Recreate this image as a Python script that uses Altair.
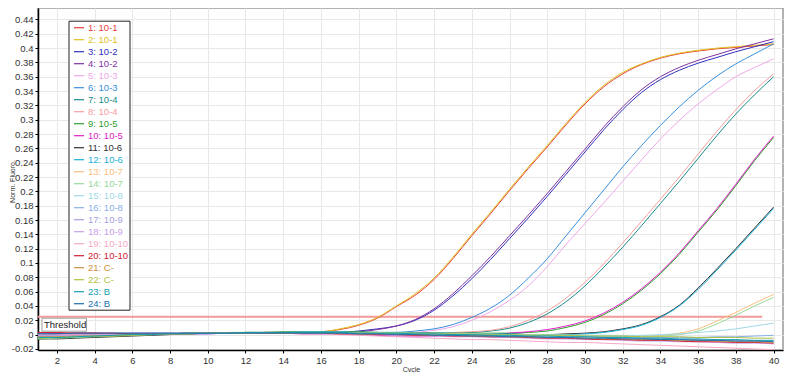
import altair as alt
import pandas as pd

cycles = list(range(1, 41))

series_names = [
    "1: 10-1", "2: 10-1", "3: 10-2", "4: 10-2", "5: 10-3", "6: 10-3",
    "7: 10-4", "8: 10-4", "9: 10-5", "10: 10-5", "11: 10-6", "12: 10-6",
    "13: 10-7", "14: 10-7", "15: 10-8", "16: 10-8", "17: 10-9", "18: 10-9",
    "19: 10-10", "20: 10-10", "21: C-", "22: C-", "23: B", "24: B",
]
series_colors = [
    "#e8403a", "#e0c020", "#3030c0", "#8030a0", "#f0a8e8", "#3890e0",
    "#1a8c8c", "#f4a0a0", "#30a030", "#e020c8", "#303030", "#18b0d8",
    "#f8c080", "#98d898", "#a0d8e8", "#88b0e8", "#a8a0e0", "#c8a0e8",
    "#f4a8c8", "#d02030", "#c89040", "#b0c040", "#10a0b0", "#2070b0",
]

s01 = [0.003, 0.002, 0.002, 0.002, 0.001, 0.001, 0.001, 0.001, 0.002, 0.002, 0.002, 0.002, 0.003, 0.003, 0.003, 0.004, 0.007, 0.013, 0.023, 0.039, 0.055, 0.077, 0.106, 0.138, 0.169, 0.201, 0.232, 0.262, 0.293, 0.322, 0.346, 0.364, 0.377, 0.386, 0.392, 0.396, 0.399, 0.401, 0.403, 0.405]
s02 = [-0.002, -0.001, -0.001, 0.000, 0.000, 0.001, 0.001, 0.001, 0.002, 0.002, 0.002, 0.002, 0.003, 0.003, 0.004, 0.004, 0.008, 0.014, 0.024, 0.040, 0.057, 0.079, 0.108, 0.140, 0.171, 0.203, 0.234, 0.264, 0.295, 0.324, 0.348, 0.366, 0.378, 0.387, 0.393, 0.397, 0.400, 0.402, 0.404, 0.406]
s03 = [0.001, 0.001, 0.002, 0.002, 0.002, 0.002, 0.002, 0.002, 0.002, 0.002, 0.002, 0.002, 0.002, 0.002, 0.002, 0.002, 0.003, 0.005, 0.008, 0.012, 0.020, 0.034, 0.054, 0.078, 0.105, 0.134, 0.163, 0.193, 0.224, 0.255, 0.286, 0.314, 0.338, 0.356, 0.369, 0.379, 0.387, 0.395, 0.402, 0.409]
s04 = [0.000, 0.000, 0.001, 0.001, 0.001, 0.001, 0.001, 0.001, 0.002, 0.002, 0.002, 0.002, 0.002, 0.002, 0.002, 0.002, 0.003, 0.004, 0.007, 0.012, 0.021, 0.036, 0.057, 0.082, 0.109, 0.138, 0.167, 0.197, 0.228, 0.259, 0.290, 0.318, 0.342, 0.360, 0.373, 0.383, 0.391, 0.399, 0.406, 0.413]
s05 = [-0.001, -0.001, 0.000, 0.000, 0.001, 0.001, 0.001, 0.001, 0.001, 0.002, 0.002, 0.002, 0.002, 0.002, 0.002, 0.002, 0.002, 0.002, 0.002, 0.002, 0.003, 0.006, 0.011, 0.020, 0.032, 0.048, 0.068, 0.095, 0.126, 0.155, 0.184, 0.214, 0.244, 0.273, 0.299, 0.322, 0.342, 0.360, 0.373, 0.385]
s06 = [-0.002, -0.001, -0.001, 0.000, 0.000, 0.001, 0.001, 0.001, 0.001, 0.002, 0.002, 0.002, 0.002, 0.002, 0.002, 0.002, 0.002, 0.002, 0.003, 0.003, 0.005, 0.008, 0.014, 0.024, 0.037, 0.055, 0.079, 0.106, 0.138, 0.170, 0.202, 0.234, 0.264, 0.292, 0.318, 0.341, 0.361, 0.378, 0.392, 0.406]
s07 = [-0.005, -0.004, -0.003, -0.002, -0.001, 0.000, 0.001, 0.001, 0.002, 0.002, 0.002, 0.003, 0.003, 0.003, 0.003, 0.003, 0.003, 0.003, 0.003, 0.002, 0.002, 0.002, 0.002, 0.003, 0.005, 0.009, 0.017, 0.029, 0.046, 0.068, 0.094, 0.122, 0.152, 0.183, 0.214, 0.246, 0.278, 0.308, 0.335, 0.360]
s08 = [-0.002, -0.002, -0.001, -0.001, 0.000, 0.000, 0.001, 0.001, 0.001, 0.002, 0.002, 0.002, 0.002, 0.002, 0.002, 0.002, 0.002, 0.002, 0.002, 0.002, 0.002, 0.002, 0.003, 0.004, 0.006, 0.011, 0.020, 0.033, 0.051, 0.073, 0.099, 0.128, 0.158, 0.189, 0.220, 0.252, 0.284, 0.314, 0.341, 0.364]
s09 = [-0.006, -0.005, -0.004, -0.003, -0.002, -0.001, 0.000, 0.001, 0.002, 0.002, 0.003, 0.003, 0.003, 0.004, 0.004, 0.004, 0.004, 0.004, 0.003, 0.003, 0.003, 0.002, 0.002, 0.002, 0.002, 0.002, 0.003, 0.005, 0.010, 0.017, 0.028, 0.043, 0.062, 0.085, 0.112, 0.143, 0.174, 0.208, 0.243, 0.275]
s10 = [0.000, 0.000, 0.001, 0.001, 0.001, 0.001, 0.001, 0.001, 0.001, 0.001, 0.002, 0.002, 0.002, 0.002, 0.001, 0.001, 0.001, 0.000, -0.001, -0.002, -0.002, -0.002, -0.002, -0.001, 0.000, 0.002, 0.004, 0.007, 0.012, 0.019, 0.030, 0.045, 0.064, 0.087, 0.114, 0.145, 0.176, 0.210, 0.245, 0.277]
s11 = [-0.006, -0.006, -0.005, -0.004, -0.003, -0.002, -0.001, 0.000, 0.001, 0.002, 0.002, 0.003, 0.003, 0.003, 0.003, 0.003, 0.003, 0.003, 0.003, 0.002, 0.002, 0.002, 0.001, 0.001, 0.001, 0.001, 0.000, 0.000, 0.001, 0.002, 0.004, 0.008, 0.014, 0.025, 0.041, 0.065, 0.092, 0.120, 0.149, 0.178]
s12 = [-0.005, -0.004, -0.003, -0.002, -0.001, 0.000, 0.001, 0.001, 0.002, 0.002, 0.002, 0.003, 0.003, 0.003, 0.004, 0.004, 0.004, 0.003, 0.003, 0.003, 0.002, 0.002, 0.002, 0.001, 0.001, 0.001, 0.000, 0.000, 0.000, 0.001, 0.003, 0.007, 0.013, 0.024, 0.040, 0.063, 0.090, 0.118, 0.147, 0.176]
s13 = [-0.004, -0.003, -0.003, -0.002, -0.001, 0.000, 0.001, 0.001, 0.002, 0.002, 0.002, 0.003, 0.003, 0.003, 0.003, 0.003, 0.003, 0.003, 0.002, 0.002, 0.002, 0.001, 0.001, 0.001, 0.000, 0.000, 0.000, -0.001, -0.001, -0.001, -0.002, -0.002, -0.002, -0.001, 0.002, 0.008, 0.019, 0.031, 0.044, 0.056]
s14 = [-0.006, -0.005, -0.004, -0.003, -0.002, -0.001, 0.000, 0.001, 0.001, 0.002, 0.002, 0.002, 0.003, 0.003, 0.003, 0.003, 0.003, 0.003, 0.003, 0.002, 0.002, 0.002, 0.001, 0.001, 0.001, 0.000, 0.000, 0.000, -0.001, -0.001, -0.001, -0.002, -0.002, -0.002, 0.000, 0.005, 0.015, 0.027, 0.040, 0.052]
s15 = [-0.004, -0.003, -0.002, -0.002, -0.001, 0.000, 0.000, 0.001, 0.001, 0.002, 0.002, 0.002, 0.002, 0.003, 0.003, 0.003, 0.002, 0.002, 0.002, 0.001, 0.001, 0.001, 0.000, 0.000, 0.000, 0.000, -0.001, -0.001, -0.001, -0.001, -0.001, -0.001, -0.001, 0.000, 0.001, 0.003, 0.005, 0.008, 0.012, 0.016]
s16 = [-0.003, -0.002, -0.002, -0.001, -0.001, 0.000, 0.000, 0.001, 0.001, 0.001, 0.002, 0.002, 0.002, 0.002, 0.002, 0.002, 0.002, 0.001, 0.001, 0.001, 0.000, 0.000, 0.000, -0.001, -0.001, -0.001, -0.002, -0.002, -0.002, -0.003, -0.003, -0.003, -0.004, -0.004, -0.004, -0.004, -0.003, -0.003, -0.002, -0.001]
s17 = [-0.001, -0.001, 0.000, 0.000, 0.001, 0.001, 0.001, 0.001, 0.001, 0.002, 0.002, 0.002, 0.002, 0.002, 0.002, 0.002, 0.002, 0.001, 0.001, 0.000, 0.000, -0.001, -0.001, -0.002, -0.002, -0.003, -0.003, -0.004, -0.004, -0.005, -0.005, -0.006, -0.006, -0.006, -0.007, -0.007, -0.008, -0.008, -0.009, -0.009]
s18 = [-0.002, -0.002, -0.001, -0.001, 0.000, 0.000, 0.001, 0.001, 0.001, 0.002, 0.002, 0.002, 0.002, 0.002, 0.002, 0.001, 0.001, 0.000, 0.000, -0.001, -0.001, -0.002, -0.003, -0.003, -0.004, -0.004, -0.005, -0.006, -0.006, -0.007, -0.007, -0.008, -0.009, -0.009, -0.010, -0.010, -0.011, -0.012, -0.012, -0.013]
s19 = [0.000, 0.000, 0.001, 0.001, 0.001, 0.001, 0.001, 0.001, 0.001, 0.002, 0.002, 0.002, 0.002, 0.002, 0.001, 0.001, 0.000, -0.001, -0.002, -0.003, -0.004, -0.005, -0.006, -0.007, -0.007, -0.008, -0.009, -0.010, -0.011, -0.011, -0.012, -0.013, -0.014, -0.015, -0.016, -0.017, -0.018, -0.019, -0.020, -0.021]
s20 = [0.003, 0.003, 0.002, 0.002, 0.002, 0.001, 0.001, 0.001, 0.001, 0.002, 0.002, 0.002, 0.002, 0.002, 0.002, 0.002, 0.001, 0.001, 0.000, 0.000, -0.001, -0.001, -0.002, -0.002, -0.003, -0.003, -0.004, -0.005, -0.005, -0.006, -0.007, -0.007, -0.008, -0.008, -0.009, -0.010, -0.010, -0.011, -0.011, -0.012]
s21 = [-0.003, -0.003, -0.002, -0.002, -0.001, 0.000, 0.000, 0.001, 0.001, 0.002, 0.002, 0.002, 0.002, 0.002, 0.002, 0.002, 0.002, 0.001, 0.001, 0.000, 0.000, -0.001, -0.001, -0.002, -0.002, -0.003, -0.003, -0.004, -0.004, -0.005, -0.006, -0.006, -0.007, -0.007, -0.008, -0.008, -0.009, -0.010, -0.010, -0.011]
s22 = [-0.005, -0.004, -0.003, -0.002, -0.002, -0.001, 0.000, 0.001, 0.001, 0.002, 0.002, 0.002, 0.003, 0.003, 0.003, 0.003, 0.003, 0.002, 0.002, 0.002, 0.001, 0.001, 0.001, 0.000, 0.000, 0.000, -0.001, -0.001, -0.001, -0.002, -0.002, -0.002, -0.003, -0.003, -0.003, -0.004, -0.004, -0.004, -0.005, -0.005]
s23 = [-0.004, -0.004, -0.003, -0.002, -0.001, 0.000, 0.000, 0.001, 0.001, 0.002, 0.002, 0.003, 0.003, 0.003, 0.003, 0.003, 0.003, 0.002, 0.002, 0.002, 0.001, 0.001, 0.000, 0.000, -0.001, -0.001, -0.002, -0.002, -0.003, -0.003, -0.004, -0.004, -0.005, -0.005, -0.006, -0.006, -0.007, -0.007, -0.008, -0.008]
s24 = [0.001, 0.001, 0.002, 0.002, 0.002, 0.002, 0.002, 0.002, 0.002, 0.002, 0.002, 0.002, 0.002, 0.002, 0.002, 0.002, 0.002, 0.001, 0.001, 0.000, 0.000, -0.001, -0.001, -0.002, -0.002, -0.003, -0.003, -0.004, -0.004, -0.005, -0.005, -0.006, -0.006, -0.007, -0.007, -0.008, -0.008, -0.009, -0.009, -0.010]

series_values = [s01, s02, s03, s04, s05, s06, s07, s08, s09, s10, s11, s12,
                 s13, s14, s15, s16, s17, s18, s19, s20, s21, s22, s23, s24]

threshold_value = [0.025]
threshold_start = [1]
threshold_end = [39.4]
threshold_label = ["Threshold"]

x_ticks = [2, 4, 6, 8, 10, 12, 14, 16, 18, 20, 22, 24, 26, 28, 30, 32, 34, 36, 38, 40]
y_ticks = [-0.02, 0, 0.02, 0.04, 0.06, 0.08, 0.1, 0.12, 0.14, 0.16, 0.18, 0.2,
           0.22, 0.24, 0.26, 0.28, 0.3, 0.32, 0.34, 0.36, 0.38, 0.4, 0.42, 0.44]

rows = []
for name, vals in zip(series_names, series_values):
    for c, v in zip(cycles, vals):
        rows.append({"series": name, "cycle": c, "fluoro": v})
df = pd.DataFrame(rows)

thr_df = pd.DataFrame({
    "cycle": threshold_start,
    "cycle_end": threshold_end,
    "fluoro": threshold_value,
    "label": threshold_label,
})

FONT = "Liberation Sans"
xscale = alt.Scale(domain=[1, 40.5], nice=False, zero=False)
yscale = alt.Scale(domain=[-0.0215, 0.456], nice=False, zero=False)

x_axis = alt.Axis(
    values=x_ticks, tickCount=len(x_ticks), title="Cycle", titleX=373, titleY=19,
    titleBaseline="middle", titleFontSize=7, titleFontWeight="normal",
    labelFlush=False, grid=True, labelOverlap=False,
)
y_axis = alt.Axis(
    values=y_ticks, tickCount=len(y_ticks), title="Norm. Fluoro.", titleX=-26,
    titleY=173, titleAngle=-90, titleAlign="center", titleBaseline="middle",
    titleFontSize=7, titleFontWeight="normal", labelFlush=False, grid=True,
    labelOverlap=False,
    labelExpr="datum.value < 0 ? '-' + format(-datum.value, '~g') : format(datum.value, '~g')",
)

lines = alt.Chart(df).mark_line(strokeWidth=1, clip=True, interpolate="monotone").encode(
    x=alt.X("cycle:Q", scale=xscale, axis=x_axis),
    y=alt.Y("fluoro:Q", scale=yscale, axis=y_axis),
    color=alt.Color(
        "series:N",
        scale=alt.Scale(domain=series_names, range=series_colors),
        sort=series_names,
        legend=alt.Legend(
            orient="none", legendX=30.5, legendY=12.7, title=None,
            symbolType="stroke", symbolSize=100, symbolStrokeWidth=1.2,
            labelFontSize=9.5, labelFont=FONT,
            labelColor=alt.ExprRef("scale('color', datum.value)"),
            labelExpr="datum.label + '  '",
            rowPadding=1, padding=1, symbolOffset=3.5, labelOffset=3,
            strokeColor="#222222", fillColor="white", labelLimit=200,
        ),
    ),
    detail="series:N",
)

thr = alt.Chart(thr_df).mark_rule(color="#f19a9a", strokeWidth=2).encode(
    x=alt.X("cycle:Q", scale=xscale, title="Cycle"),
    x2="cycle_end:Q",
    y=alt.Y("fluoro:Q", scale=yscale, title="Norm. Fluoro."),
)

box = alt.Chart(thr_df).mark_rect(
    fill="white", stroke="#a0a0a0", strokeWidth=1, yOffset=1.5, y2Offset=14.5
).encode(
    x=alt.value(4), x2=alt.value(48.5),
    y=alt.Y("fluoro:Q", scale=yscale, title="Norm. Fluoro."),
    y2="fluoro:Q",
)

label = alt.Chart(thr_df).mark_text(
    align="left", baseline="middle", dy=8.3, fontSize=9.5, font=FONT, color="#222222"
).encode(
    x=alt.value(6),
    y=alt.Y("fluoro:Q", scale=yscale, title="Norm. Fluoro."),
    text="label:N",
)

chart = alt.layer(thr, lines, box, label).properties(
    width=745, height=342,
    autosize=alt.AutoSizeParams(type="none"),
    padding={"left": 30, "top": 0, "right": 1, "bottom": 22},
).configure_view(
    stroke="#999999", strokeWidth=1.5
).configure_axis(
    labelFont=FONT, labelFontSize=9.5, labelColor="#333333",
    titleFont=FONT, titleColor="#333333",
    domainColor="#000000", domainWidth=1.5,
    tickColor="#000000", tickSize=3, labelPadding=2,
    gridColor="#e8e8e8", gridWidth=1,
).configure_axisX(labelPadding=2)

chart.save("out.html", embed_options={"renderer": "svg", "actions": False})
